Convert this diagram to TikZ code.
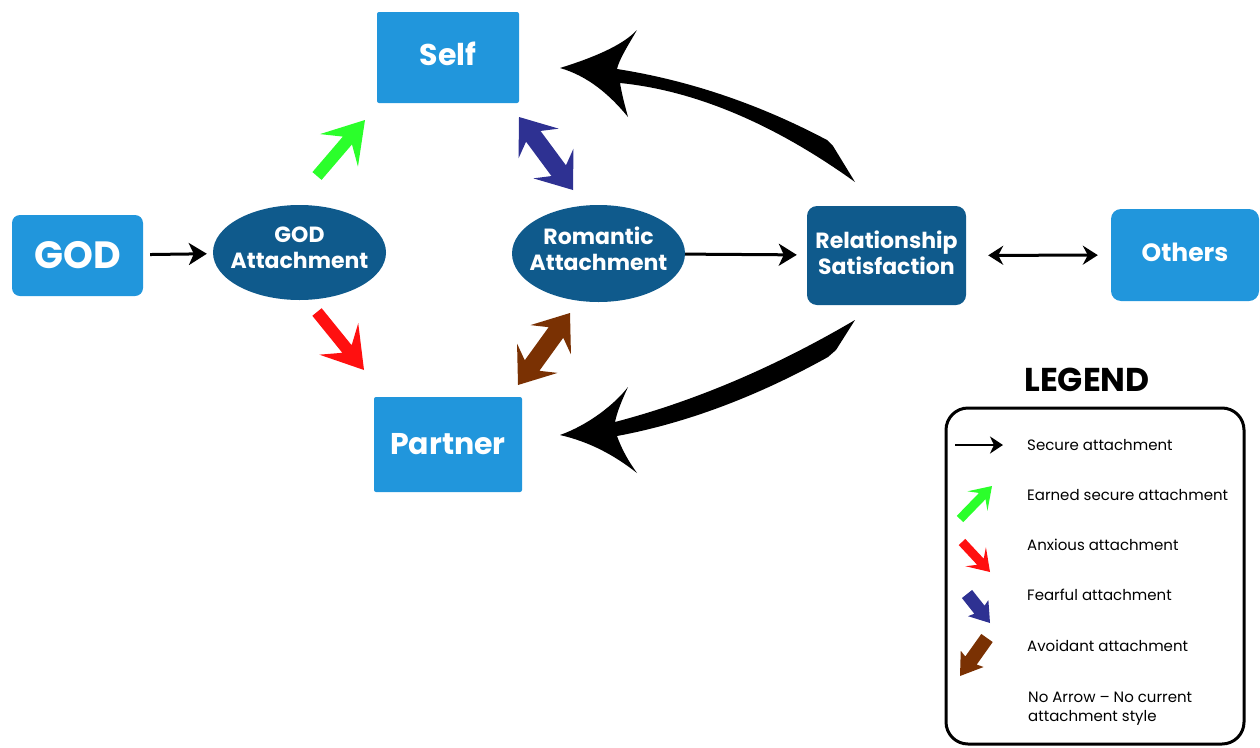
\documentclass[tikz,border=0pt]{standalone}
\usepackage{fontspec}
\setmainfont{Poppins}
\usetikzlibrary{shapes.geometric,arrows.meta,calc,positioning}

\definecolor{boxblue}{HTML}{2196DC}
\definecolor{deepblue}{HTML}{0F5A8C}
\definecolor{earnedgreen}{HTML}{2BFF2B}
\definecolor{anxred}{HTML}{FF1010}
\definecolor{fearblue}{HTML}{2E3192}
\definecolor{avoidbrown}{HTML}{7A3103}

% single block arrow: colour, tail, tip, half shaft, half head, head length, joint
\newcommand{\attarrow}[7]{%
  \coordinate (aa-s) at #2; \coordinate (aa-e) at #3;
  \coordinate (aa-b) at ($(aa-e)!#6!(aa-s)$);
  \coordinate (aa-j) at ($(aa-e)!#7!(aa-s)$);
  \fill[#1] ($(aa-s)!#4!90:(aa-e)$) -- ($(aa-j)!#4!90:(aa-e)$) -- ($(aa-b)!#5!90:(aa-e)$)
    -- (aa-e) -- ($(aa-b)!#5!-90:(aa-e)$) -- ($(aa-j)!#4!-90:(aa-e)$)
    -- ($(aa-s)!#4!-90:(aa-e)$) -- cycle;}

% double block arrow: colour, tip, tip, half shaft, half head, head length, joint
\newcommand{\attdarrow}[7]{%
  \coordinate (aa-s) at #2; \coordinate (aa-e) at #3;
  \coordinate (aa-b1) at ($(aa-s)!#6!(aa-e)$); \coordinate (aa-j1) at ($(aa-s)!#7!(aa-e)$);
  \coordinate (aa-b2) at ($(aa-e)!#6!(aa-s)$); \coordinate (aa-j2) at ($(aa-e)!#7!(aa-s)$);
  \fill[#1] (aa-s) -- ($(aa-b1)!#5!90:(aa-e)$) -- ($(aa-j1)!#4!90:(aa-e)$)
    -- ($(aa-j2)!#4!90:(aa-e)$) -- ($(aa-b2)!#5!90:(aa-e)$) -- (aa-e)
    -- ($(aa-b2)!#5!-90:(aa-e)$) -- ($(aa-j2)!#4!-90:(aa-e)$)
    -- ($(aa-j1)!#4!-90:(aa-e)$) -- ($(aa-b1)!#5!-90:(aa-e)$) -- cycle;}

\tikzset{
  lightbox/.style={fill=boxblue, text=white, inner sep=0pt, font=\bfseries\fontsize{30}{34}\selectfont},
  darkbox/.style={fill=deepblue, inner sep=0pt},
  darkell/.style={ellipse, fill=deepblue, inner sep=0pt},
  elltext/.style={text=white, align=center, yshift=5pt, font=\bfseries\fontsize{22}{26}\selectfont},
  conn/.style={line width=3pt, -{Stealth[length=18pt,width=22pt,inset=5pt]}},
  keytext/.style={anchor=west, align=left, inner sep=0pt, font=\fontsize{15}{19}\selectfont},
}

\begin{document}
\begin{tikzpicture}[x=1pt, y=-1pt]
\useasboundingbox (0,0) rectangle (1260,747);

% -------- boxes -----------
\node[lightbox, rounded corners=8, minimum width=131, minimum height=81, font=\bfseries\fontsize{38}{40}\selectfont] (god) at (77.5,255.5) {GOD};
\node[darkell, minimum width=173, minimum height=95, label={[elltext]center:{GOD\\Attachment}}] (godatt) at (299.5,252.5) {};
\node[lightbox, rounded corners=2, minimum width=142, minimum height=91, text depth=8pt] (self) at (448,57.5) {Self};
\node[lightbox, rounded corners=2, minimum width=148, minimum height=95] (partner) at (448,444.5) {Partner};
\node[darkell, minimum width=173, minimum height=97, label={[elltext]center:{Romantic\\Attachment}}] (romatt) at (598.5,253.5) {};
\node[darkbox, rounded corners=10, minimum width=159, minimum height=99, label={[elltext, yshift=-2pt]center:{Relationship\\Satisfaction}}] (relsat) at (886.5,255.5) {};
\node[lightbox, rounded corners=10, minimum width=148, minimum height=92, text depth=6pt, font=\bfseries\fontsize{25}{28}\selectfont] (others) at (1185,255) {Others};

% -------- straight connectors -----------
\draw[conn, shorten <=7pt, shorten >=6pt] (god) -- (godatt);
\draw[conn, shorten >=10pt] (romatt) -- (relsat);
\draw[conn, {Stealth[length=15pt,width=19pt,inset=5pt]}-{Stealth[length=15pt,width=19pt,inset=5pt]}, shorten <=22pt, shorten >=13pt] (relsat) -- (others);

% -------- block arrows -----------
\attarrow{earnedgreen}{(317,176)}{(365,120)}{6pt}{25pt}{40pt}{27pt}
\attarrow{anxred}{(317,312)}{(364,370)}{6pt}{25pt}{40pt}{27pt}
\attdarrow{fearblue}{(519,117)}{(573,190)}{9pt}{25pt}{33pt}{24pt}
\attdarrow{avoidbrown}{(570,313)}{(518,385)}{9pt}{25pt}{33pt}{24pt}

% -------- curved arrows -----------
\fill (560,68) .. controls (592,58) and (622,46) .. (637,30)
  .. controls (627,47) and (619,60) .. (617,69)
  .. controls (687,80) and (757,103) .. (827,140)
  -- (833,146) -- (855,182)
  .. controls (780,128) and (700,91) .. (620,83)
  .. controls (622,95) and (625,106) .. (628,117)
  .. controls (610,95) and (588,76) .. (560,68) -- cycle;
\fill (560,435) .. controls (588,425) and (614,405) .. (628,387)
  .. controls (622,400) and (617,412) .. (615,422)
  .. controls (695,401) and (775,367) .. (855,320)
  -- (836,350) -- (828,357)
  .. controls (758,396) and (687,423) .. (617,436)
  .. controls (622,450) and (629,462) .. (637,473)
  .. controls (614,455) and (590,442) .. (560,435) -- cycle;

% -------- legend -----------
\node[font=\bfseries\fontsize{33}{35}\selectfont] (legtitle) at (1087,380) {LEGEND};
\node[draw, line width=3pt, rounded corners=22, minimum width=298, minimum height=336] (legend) at (1095,576) {};

\coordinate (keysec-a) at (955,445);
\coordinate (keysec-b) at (1003,445);
\draw[line width=2.5pt, -{Stealth[length=13pt,width=17pt,inset=4pt]}] (keysec-a) -- (keysec-b);
\attarrow{earnedgreen}{(960,519)}{(992,486)}{4.5pt}{14pt}{21pt}{14pt}
\attarrow{anxred}{(962,542)}{(990,572)}{4.5pt}{14pt}{21pt}{14pt}
\attarrow{fearblue}{(967,594)}{(990,623)}{6.5pt}{13pt}{19pt}{17pt}
\attarrow{avoidbrown}{(987,638)}{(960,676)}{7pt}{14pt}{21pt}{19pt}

\node[keytext] (keysec) at (1027,445) {Secure attachment};
\node[keytext] (keyearn) at (1027,495) {Earned secure attachment};
\node[keytext] (keyanx) at (1027,545) {Anxious attachment};
\node[keytext] (keyfear) at (1027,595) {Fearful attachment};
\node[keytext] (keyavoid) at (1027,646) {Avoidant attachment};
\node[keytext] (keynone) at (1028,709) {No Arrow – No current\\attachment style};
\end{tikzpicture}
\end{document}
